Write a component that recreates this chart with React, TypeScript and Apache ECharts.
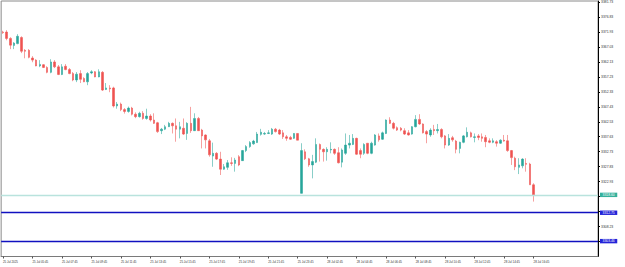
import React, { useEffect, useRef } from "react";
import * as echarts from "echarts";

// [open, close, low, high] — 25 Jul 2025, M15 bars from 03:45 to 23:45
const fridayCandles: number[][] = [
  [3371.9, 3371.7, 3371.3, 3372.3],
  [3371.9, 3369.8, 3369.2, 3372.5],
  [3369.8, 3367.6, 3366.3, 3370.2],
  [3367.5, 3368.3, 3366.3, 3368.6],
  [3368.1, 3370.5, 3367.9, 3371.2],
  [3370.1, 3365.6, 3365.0, 3370.5],
  [3365.9, 3365.6, 3363.3, 3366.3],
  [3365.9, 3363.6, 3363.3, 3366.3],
  [3363.4, 3362.7, 3362.0, 3364.0],
  [3362.7, 3360.8, 3360.7, 3363.0],
  [3360.8, 3361.3, 3360.4, 3362.7],
  [3361.2, 3360.3, 3360.1, 3361.4],
  [3360.3, 3358.7, 3358.4, 3360.7],
  [3358.7, 3362.1, 3358.4, 3363.0],
  [3362.1, 3360.5, 3360.1, 3362.7],
  [3360.5, 3358.0, 3357.8, 3361.1],
  [3358.0, 3360.5, 3357.8, 3361.4],
  [3360.7, 3359.6, 3359.4, 3361.4],
  [3359.6, 3358.3, 3358.1, 3360.1],
  [3358.3, 3356.2, 3355.8, 3358.8],
  [3356.2, 3358.1, 3355.5, 3358.8],
  [3358.3, 3356.4, 3355.2, 3359.4],
  [3356.7, 3355.6, 3355.5, 3357.1],
  [3355.6, 3358.3, 3354.5, 3358.8],
  [3358.5, 3358.9, 3358.1, 3359.4],
  [3358.9, 3357.2, 3357.1, 3359.1],
  [3357.2, 3358.9, 3357.1, 3359.7],
  [3358.7, 3352.9, 3352.6, 3359.1],
  [3353.1, 3353.6, 3352.9, 3355.2],
  [3353.6, 3353.3, 3352.2, 3354.5],
  [3353.6, 3347.7, 3347.2, 3354.0],
  [3347.7, 3348.3, 3346.8, 3349.0],
  [3348.3, 3346.5, 3346.0, 3348.8],
  [3346.5, 3345.9, 3345.2, 3347.0],
  [3345.9, 3347.0, 3345.5, 3347.5],
  [3347.0, 3345.0, 3344.6, 3347.4],
  [3345.0, 3344.2, 3343.7, 3345.6],
  [3344.2, 3345.3, 3343.9, 3345.8],
  [3345.3, 3343.6, 3343.2, 3346.0],
  [3343.6, 3344.4, 3343.2, 3346.8],
  [3344.4, 3343.1, 3342.6, 3345.0],
  [3343.1, 3342.0, 3341.8, 3345.3],
  [3342.2, 3339.3, 3338.9, 3342.5],
  [3339.6, 3340.1, 3338.5, 3340.5],
  [3340.1, 3340.9, 3339.8, 3341.5],
  [3340.9, 3342.0, 3340.8, 3342.5],
  [3342.0, 3341.2, 3338.7, 3342.3],
  [3341.2, 3340.1, 3336.0, 3343.6],
  [3340.1, 3340.9, 3337.1, 3342.5],
  [3340.4, 3338.5, 3338.2, 3343.6],
  [3338.7, 3342.0, 3336.6, 3342.4],
  [3342.0, 3339.6, 3338.9, 3347.4],
  [3339.6, 3343.6, 3339.5, 3345.3],
  [3343.6, 3339.6, 3339.5, 3344.1],
  [3339.8, 3337.9, 3333.8, 3340.2],
  [3338.2, 3336.6, 3333.8, 3338.4],
  [3336.3, 3331.7, 3331.1, 3336.9],
  [3331.3, 3332.2, 3327.8, 3335.7],
  [3332.2, 3330.3, 3330.0, 3332.6],
  [3330.3, 3327.0, 3325.1, 3332.7],
  [3327.0, 3327.8, 3326.8, 3328.7],
  [3327.6, 3329.1, 3326.8, 3330.0],
  [3329.1, 3328.9, 3328.1, 3330.9],
  [3328.9, 3330.0, 3326.2, 3330.7],
  [3331.1, 3328.4, 3328.0, 3331.6],
  [3329.8, 3333.1, 3329.7, 3333.3],
  [3333.1, 3334.4, 3332.6, 3334.9],
  [3334.4, 3335.7, 3334.0, 3336.2],
  [3335.3, 3336.2, 3335.0, 3336.6],
  [3335.7, 3338.5, 3335.6, 3339.2],
  [3338.4, 3339.1, 3338.0, 3340.2],
  [3338.5, 3338.7, 3338.2, 3339.2],
  [3338.7, 3338.9, 3338.5, 3339.8],
  [3338.5, 3340.1, 3338.2, 3340.5],
  [3340.1, 3339.3, 3339.0, 3340.5],
  [3339.8, 3338.5, 3338.2, 3340.2],
  [3338.9, 3337.6, 3336.9, 3339.8],
  [3337.6, 3337.1, 3336.3, 3338.2],
  [3337.4, 3336.8, 3336.6, 3337.9],
  [3337.1, 3338.7, 3336.9, 3338.8],
  [3338.7, 3336.5, 3336.5, 3338.8],
];

// [open, close, low, high] — 28 Jul 2025, M15 bars from 01:00 to 16:45
const mondayCandles: number[][] = [
  [3319.1, 3333.1, 3319.0, 3335.5],
  [3332.7, 3330.4, 3330.0, 3333.5],
  [3330.4, 3328.4, 3327.8, 3330.7],
  [3328.4, 3329.5, 3324.0, 3331.7],
  [3329.3, 3335.1, 3329.0, 3337.1],
  [3335.1, 3333.5, 3329.5, 3335.4],
  [3333.5, 3332.7, 3329.5, 3333.8],
  [3332.7, 3333.5, 3329.8, 3334.2],
  [3333.3, 3333.5, 3332.2, 3335.8],
  [3333.5, 3332.2, 3331.7, 3333.8],
  [3332.4, 3329.1, 3328.9, 3334.2],
  [3329.3, 3333.3, 3327.6, 3333.8],
  [3332.2, 3334.9, 3331.7, 3338.7],
  [3334.9, 3335.5, 3333.8, 3338.2],
  [3335.1, 3337.1, 3334.9, 3338.5],
  [3337.1, 3331.9, 3331.7, 3337.3],
  [3333.1, 3331.9, 3330.6, 3333.8],
  [3332.2, 3335.1, 3331.7, 3335.5],
  [3335.5, 3332.2, 3331.9, 3335.5],
  [3332.2, 3335.5, 3331.9, 3336.0],
  [3334.9, 3338.2, 3334.7, 3338.5],
  [3337.9, 3336.6, 3336.0, 3338.7],
  [3336.8, 3338.9, 3336.6, 3339.3],
  [3338.7, 3343.1, 3338.5, 3343.3],
  [3343.1, 3342.0, 3341.8, 3344.0],
  [3342.0, 3340.4, 3340.0, 3342.5],
  [3340.6, 3339.8, 3339.5, 3341.0],
  [3340.4, 3339.8, 3339.4, 3340.8],
  [3339.6, 3338.5, 3338.2, 3340.4],
  [3338.9, 3338.2, 3338.0, 3339.8],
  [3338.5, 3340.9, 3338.3, 3341.1],
  [3340.9, 3343.3, 3340.7, 3344.7],
  [3343.3, 3341.8, 3341.5, 3345.0],
  [3341.8, 3338.9, 3338.7, 3342.0],
  [3339.3, 3338.5, 3335.5, 3339.8],
  [3338.2, 3339.8, 3337.6, 3340.4],
  [3340.0, 3339.6, 3338.2, 3341.5],
  [3339.6, 3340.0, 3338.7, 3341.8],
  [3340.0, 3337.6, 3337.1, 3340.4],
  [3337.9, 3334.9, 3333.8, 3338.2],
  [3334.9, 3337.1, 3334.6, 3338.5],
  [3337.3, 3336.6, 3336.0, 3337.9],
  [3336.2, 3333.5, 3332.2, 3336.6],
  [3333.8, 3335.8, 3332.2, 3336.0],
  [3335.8, 3337.9, 3335.5, 3338.2],
  [3337.6, 3339.1, 3337.4, 3340.7],
  [3338.9, 3337.6, 3337.4, 3339.3],
  [3337.4, 3337.6, 3335.8, 3338.7],
  [3337.9, 3337.4, 3336.5, 3338.5],
  [3337.6, 3337.1, 3336.0, 3338.7],
  [3337.4, 3336.0, 3334.2, 3338.2],
  [3336.3, 3335.8, 3335.5, 3337.1],
  [3335.8, 3336.3, 3335.5, 3337.1],
  [3336.0, 3335.5, 3334.4, 3336.5],
  [3335.5, 3336.5, 3335.3, 3336.8],
  [3336.5, 3336.2, 3336.0, 3338.2],
  [3336.3, 3333.1, 3332.7, 3338.2],
  [3333.1, 3330.8, 3328.4, 3333.3],
  [3330.6, 3327.8, 3326.7, 3331.1],
  [3327.6, 3328.4, 3325.4, 3330.6],
  [3328.1, 3330.3, 3327.3, 3330.6],
  [3328.9, 3328.6, 3326.2, 3330.6],
  [3328.7, 3321.9, 3321.9, 3329.1],
  [3321.9, 3318.6, 3316.4, 3322.4],
];

const bidPrice = 3318.6;
const bluePrices = [3312.75, 3303.46];
const yAxisMin = 3298.43;
const yAxisMax = 3382.05;
const yAxisStep = 4.9;
const firstDateLabel = "25 Jul 2025";
const fridayDay = "25 Jul";
const mondayDay = "28 Jul";
const fridayStartMinutes = 3 * 60 + 45;
const mondayStartMinutes = 60;
const totalSlots = 162;

const pad = (n: number) => (n < 10 ? "0" + n : "" + n);
const hhmm = (m: number) => pad(Math.floor(m / 60)) + ":" + pad(m % 60);

function buildCategories(): string[] {
  const cats: string[] = [];
  fridayCandles.forEach((_, i) => cats.push(fridayDay + " " + hhmm(fridayStartMinutes + 15 * i)));
  mondayCandles.forEach((_, i) => cats.push(mondayDay + " " + hhmm(mondayStartMinutes + 15 * i)));
  while (cats.length < totalSlots) cats.push("");
  return cats;
}

export default function App() {
  const ref = useRef<HTMLDivElement>(null);
  useEffect(() => {
    if (!ref.current) return;
    const chart = echarts.init(ref.current, undefined, { renderer: "svg" });
    const categories = buildCategories();
    const barCount = fridayCandles.length + mondayCandles.length;
    const candles = [...fridayCandles, ...mondayCandles];
    const tagPrices = [bidPrice, ...bluePrices];
    const showTick = (i: number) => i % 8 === 0 && i < barCount;
    const font = "Liberation Sans, Arial, sans-serif";

    const tagLabel = (bg: string) => ({
      show: true,
      position: "end",
      distance: 2,
      formatter: (p: any) => Number(p.value).toFixed(2),
      color: "#ffffff",
      fontSize: 3.4,
      fontFamily: font,
      backgroundColor: bg,
      padding: [0.8, 2.5, 0.6, 2.5],
    });

    chart.setOption({
      animation: false,
      backgroundColor: "#ffffff",
      grid: {
        left: 0,
        right: 27,
        top: 1,
        bottom: 10.5,
        show: true,
        borderColor: "#8a8a8a",
        borderWidth: 1,
        backgroundColor: "transparent",
      },
      xAxis: {
        type: "category",
        data: categories,
        boundaryGap: true,
        axisLine: { show: true, lineStyle: { color: "#7a7a7a", width: 1 } },
        axisTick: {
          show: true,
          alignWithLabel: true,
          interval: (i: number) => showTick(i),
          length: 2,
          lineStyle: { color: "#555555" },
        },
        axisLabel: {
          interval: (i: number) => showTick(i),
          formatter: (v: string, i: number) => (i === 0 ? firstDateLabel : v),
          align: "left",
          fontSize: 2.9,
          fontFamily: font,
          color: "#333333",
          margin: 4,
        },
        splitLine: { show: false },
      },
      yAxis: {
        type: "value",
        position: "right",
        scale: true,
        min: yAxisMin,
        max: yAxisMax,
        interval: yAxisStep,
        axisLine: { show: true, lineStyle: { color: "#000000", width: 1 } },
        axisTick: { show: true, length: 2, lineStyle: { color: "#000000" } },
        axisLabel: {
          showMaxLabel: false,
          showMinLabel: false,
          margin: 3,
          fontSize: 3.4,
          fontFamily: font,
          color: "#333333",
          formatter: (v: number) =>
            tagPrices.some((t) => Math.abs(t - v) < 1.5) ? "" : v.toFixed(2),
        },
        splitLine: { show: false },
      },
      series: [
        {
          type: "candlestick",
          data: candles,
          barWidth: 2,
          clip: false,
          itemStyle: {
            color: "#26a69a",
            color0: "#ef5350",
            borderColor: "#26a69a",
            borderColor0: "#ef5350",
            borderWidth: 0.55,
          },
          markLine: {
            symbol: "none",
            silent: true,
            animation: false,
            data: [
              {
                yAxis: bidPrice,
                lineStyle: { color: "#b9e3dd", width: 1.3, type: "solid" },
                label: tagLabel("#35b09c"),
              },
              ...bluePrices.map((p) => ({
                yAxis: p,
                lineStyle: { color: "#1010c0", width: 1.3, type: "solid" },
                label: tagLabel("#2323d8"),
              })),
            ],
          },
        },
      ],
    });
    return () => chart.dispose();
  }, []);

  return (
    <div
      ref={ref}
      style={{ position: "fixed", left: 0, top: 0, width: 625, height: 267, background: "#fff" }}
    />
  );
}
